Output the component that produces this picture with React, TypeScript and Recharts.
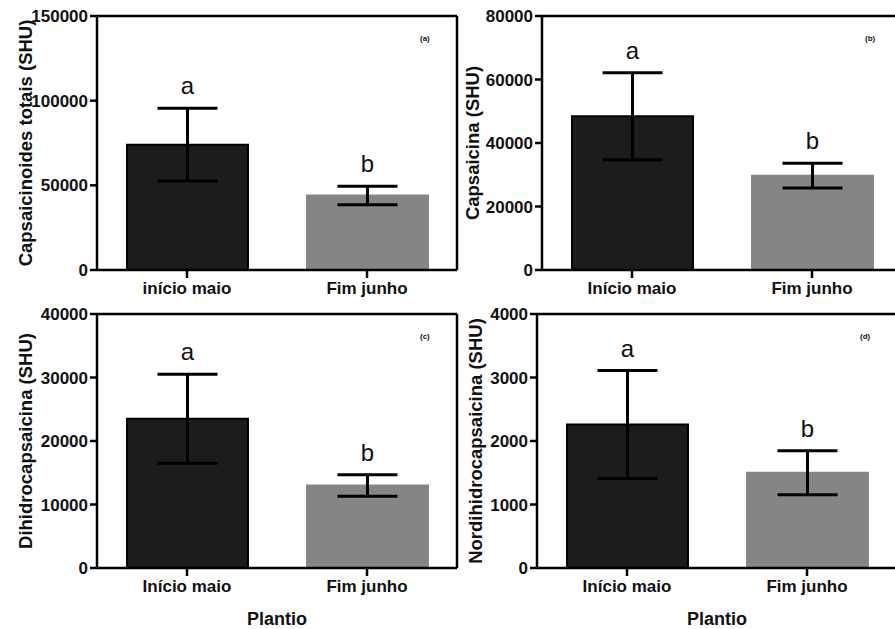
import React from 'react';
import { BarChart, Bar, XAxis, YAxis, ErrorBar, Cell, LabelList, CartesianGrid } from 'recharts';

const catsA = ['início maio', 'Fim junho'];
const catsB = ['Início maio', 'Fim junho'];

const totalMeans = [74000, 44000];
const totalErrs = [21500, 5500];
const capsMeans = [48400, 29700];
const capsErrs = [13700, 3900];
const dihMeans = [23500, 13000];
const dihErrs = [7000, 1700];
const nordMeans = [2260, 1500];
const nordErrs = [850, 345];

const letters = ['a', 'b'];
const barFills = ['#1c1c1c', '#858585'];
const barStrokes = ['#000', '#858585'];

const FONT = '"Liberation Sans", Arial, sans-serif';
const CHART_W = 470;
const Y_AXIS_W = 97;
const M_TOP = 16;
const M_RIGHT = 13;
const LINE_W = 2.5;

interface PanelProps {
  left: number;
  top: number;
  height: number;
  cats: string[];
  means: number[];
  errs: number[];
  max: number;
  ticks: number[];
  yLabel: string;
  yLabelOffset: number;
  tag: string;
  showPlantio?: boolean;
}

// frame lines along the top and right edges of the plot area
const topEdge = ({ offset }: any) => [offset.top];
const rightEdge = ({ offset }: any) => [offset.left + offset.width];

function Panel({ left, top, height, cats, means, errs, max, ticks, yLabel, yLabelOffset, tag, showPlantio }: PanelProps) {
  const data = cats.map((c, i) => ({ cat: c, mean: means[i], err: errs[i] }));
  const xHeight = showPlantio ? 61 : 30;

  const renderLetter = (props: any) => {
    const { x, y, width, height: h, index, value } = props;
    const errPx = value ? (errs[index] / value) * h : 0;
    return (
      <text
        x={Number(x) + Number(width) / 2}
        y={Number(y) - errPx - 14}
        textAnchor="middle"
        fontSize={24}
        fontFamily={FONT}
        fill="#111"
      >
        {letters[index]}
      </text>
    );
  };

  return (
    <div style={{ position: 'absolute', left, top, width: CHART_W, height }}>
      <BarChart width={CHART_W} height={height} data={data} margin={{ top: M_TOP, right: M_RIGHT, bottom: 0, left: 0 }}>
        <CartesianGrid
          stroke="#000"
          strokeWidth={LINE_W}
          horizontalCoordinatesGenerator={topEdge}
          verticalCoordinatesGenerator={rightEdge}
        />
        <XAxis
          dataKey="cat"
          height={xHeight}
          stroke="#000"
          strokeWidth={LINE_W}
          tickSize={8}
          tickMargin={4}
          tick={{ fill: '#111', fontSize: 17, fontWeight: 'bold', fontFamily: FONT }}
          label={
            showPlantio
              ? { value: 'Plantio', position: 'insideBottom', offset: 4, fill: '#111', fontSize: 18, fontWeight: 'bold', fontFamily: FONT }
              : undefined
          }
        />
        <YAxis
          domain={[0, max]}
          ticks={ticks}
          width={Y_AXIS_W}
          stroke="#000"
          strokeWidth={LINE_W}
          tickSize={7}
          tickMargin={2}
          interval={0}
          tick={{ fill: '#111', fontSize: 17, fontWeight: 'bold', fontFamily: FONT }}
          label={{
            value: yLabel,
            angle: -90,
            position: 'insideLeft',
            offset: yLabelOffset,
            fill: '#111',
            fontSize: 18.5,
            fontWeight: 'bold',
            fontFamily: FONT,
            style: { textAnchor: 'middle' },
          }}
        />
        <Bar dataKey="mean" barSize={121} isAnimationActive={false}>
          {data.map((d, i) => (
            <Cell key={d.cat} fill={barFills[i]} stroke={barStrokes[i]} strokeWidth={2} />
          ))}
          <ErrorBar dataKey="err" width={30} stroke="#000" strokeWidth={3} direction="y" />
          <LabelList dataKey="mean" content={renderLetter} />
        </Bar>
      </BarChart>
      <div
        style={{
          position: 'absolute',
          left: 428 - 8,
          top: 34,
          fontSize: 8,
          fontWeight: 'bold',
          fontFamily: FONT,
          color: '#111',
        }}
      >
        {tag}
      </div>
    </div>
  );
}

export default function App() {
  return (
    <div
      style={{
        position: 'absolute',
        left: 0,
        top: 0,
        width: 895,
        height: 629,
        overflow: 'hidden',
        background: '#fff',
      }}
    >
      <Panel
        left={0}
        top={0}
        height={300}
        cats={catsA}
        means={totalMeans}
        errs={totalErrs}
        max={150000}
        ticks={[0, 50000, 100000, 150000]}
        yLabel="Capsaicinoides totais (SHU)"
        yLabelOffset={25}
        tag="(a)"
      />
      <Panel
        left={445}
        top={0}
        height={300}
        cats={catsB}
        means={capsMeans}
        errs={capsErrs}
        max={80000}
        ticks={[0, 20000, 40000, 60000, 80000]}
        yLabel="Capsaicina (SHU)"
        yLabelOffset={27}
        tag="(b)"
      />
      <Panel
        left={0}
        top={298}
        height={331}
        cats={catsB}
        means={dihMeans}
        errs={dihErrs}
        max={40000}
        ticks={[0, 10000, 20000, 30000, 40000]}
        yLabel="Dihidrocapsaicina (SHU)"
        yLabelOffset={25}
        tag="(c)"
        showPlantio
      />
      <Panel
        left={440}
        top={298}
        height={331}
        cats={catsB}
        means={nordMeans}
        errs={nordErrs}
        max={4000}
        ticks={[0, 1000, 2000, 3000, 4000]}
        yLabel="Nordihidrocapsaicina (SHU)"
        yLabelOffset={35}
        tag="(d)"
        showPlantio
      />
    </div>
  );
}
